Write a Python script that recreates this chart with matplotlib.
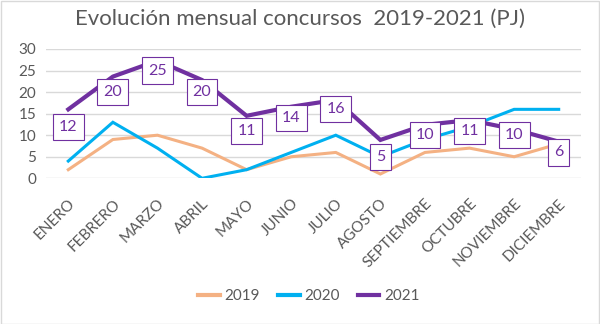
import matplotlib
matplotlib.use("Agg")
import matplotlib.pyplot as plt
import numpy as np

meses = ["ENERO", "FEBRERO", "MARZO", "ABRIL", "MAYO", "JUNIO", "JULIO",
         "AGOSTO", "SEPTIEMBRE", "OCTUBRE", "NOVIEMBRE", "DICIEMBRE"]
c2019 = [2, 9, 10, 7, 2, 5, 6, 1, 6, 7, 5, 8]
c2020 = [4, 13, 7, 0, 2, 6, 10, 5, 9, 12, 16, 16]
c2021 = [16, 23.6, 27.3, 22.8, 14.5, 16.6, 18.2, 8.9, 12.4, 13.5, 11.4, 8.5]
etiquetas_2021 = [12, 20, 25, 20, 11, 14, 16, 5, 10, 11, 10, 6]

gris = "#595959"
plt.rcParams['font.family'] = ['Lato', 'DejaVu Sans']

W, H = 600, 324
fig = plt.figure(figsize=(W / 100, H / 100), dpi=100)
ax = fig.add_axes([46 / W, (H - 178.3) / H, (581 - 46) / W, (178.3 - 49) / H])

x = np.arange(len(meses))
ax.plot(x, c2019, color="#F4B183", lw=2.2, label="2019", solid_joinstyle="miter")
ax.plot(x, c2020, color="#00B0F0", lw=2.2, label="2020", solid_joinstyle="miter")
ax.plot(x, c2021, color="#7030A0", lw=3.0, label="2021", solid_joinstyle="miter")

for xi, v in zip(x, etiquetas_2021):
    ax.text(xi, v, str(v), ha="center", va="center", fontsize=11.5, color="#7030A0",
            clip_on=False, zorder=5,
            bbox=dict(boxstyle="square,pad=0.38", fc="white", ec="#7030A0", lw=0.8))

ax.set_xlim(-0.5, len(meses) - 0.5)
ax.set_ylim(0, 30)
ax.set_yticks(range(0, 31, 5))
ax.yaxis.grid(True, color="#D9D9D9", lw=1)
ax.set_axisbelow(True)
for s in ax.spines.values():
    s.set_visible(False)
ax.tick_params(axis="both", length=0, colors=gris, labelsize=11)
ax.tick_params(axis="y", pad=7)
ax.set_xticks(x)
ax.set_xticklabels(meses, rotation=45, ha="right", va="top", rotation_mode="anchor")
ax.tick_params(axis="x", pad=13)

fig.text(0.5, 1 - 19 / H, "Evolución mensual concursos  2019-2021 (PJ)", ha="center",
         va="center", fontsize=16, color=gris)

leg = fig.legend(loc="center", bbox_to_anchor=(309 / W, 1 - 296 / H), ncol=3, frameon=False,
                 fontsize=11, handlelength=1.4, handletextpad=0.3, columnspacing=1.2,
                 labelcolor=gris)
for h in leg.get_lines():
    h.set_linewidth(3)

# light border around the chart
fig.add_artist(plt.Rectangle((0.5 / W, 0.5 / H), 1 - 1.5 / W, 1 - 1.5 / H,
                             transform=fig.transFigure, fill=False, ec="#D9D9D9", lw=1))

fig.savefig("out.png", dpi=100)
